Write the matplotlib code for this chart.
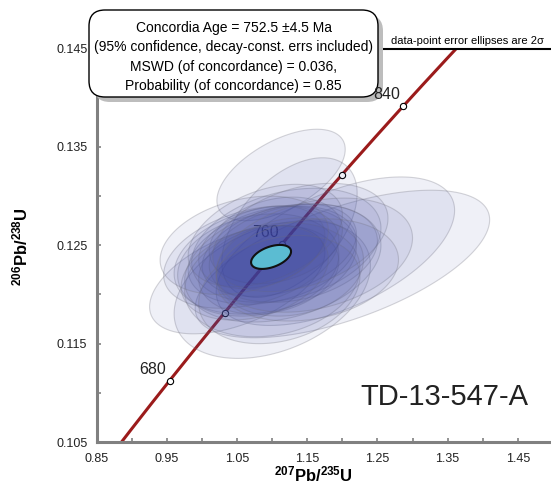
import numpy as np
import matplotlib
matplotlib.use('Agg')
import matplotlib.pyplot as plt
from matplotlib.patches import FancyBboxPatch
from matplotlib.transforms import IdentityTransform

plt.rcParams['font.family'] = ['Liberation Sans', 'DejaVu Sans']
plt.rcParams['mathtext.fontset'] = 'custom'
plt.rcParams['mathtext.rm'] = 'Liberation Sans'
plt.rcParams['mathtext.bf'] = 'Liberation Sans:bold'

# Datos: elipses 2 sigma (centro x, error x, centro y, error y, rho)
pb207_u235 = [1.1125, 1.1245, 1.190, 1.200, 1.100, 1.050,
              1.100, 1.090, 1.110, 1.080, 1.120, 1.095, 1.105, 1.070, 1.130,
              1.085, 1.115, 1.100, 1.090, 1.125, 1.075, 1.140, 1.060, 1.110,
              1.160, 1.150]
err_x = [0.0915, 0.0965, 0.170, 0.210, 0.140, 0.125,
         0.120, 0.130, 0.110, 0.115, 0.135, 0.100, 0.095, 0.125, 0.120,
         0.090, 0.140, 0.125, 0.110, 0.105, 0.105, 0.125, 0.120, 0.115,
         0.140, 0.130]
pb206_u238 = [0.13215, 0.1268, 0.1244, 0.1231, 0.1205, 0.1215,
              0.1240, 0.1235, 0.1245, 0.1230, 0.1250, 0.1225, 0.1255, 0.1238, 0.1242,
              0.1248, 0.1232, 0.1215, 0.1260, 0.1228, 0.1222, 0.1258, 0.1250, 0.1205,
              0.1240, 0.1225]
err_y = [0.00465, 0.0071, 0.00755, 0.0075, 0.0070, 0.0055,
         0.0050, 0.0055, 0.0047, 0.0052, 0.0058, 0.0045, 0.0044, 0.0052, 0.0050,
         0.0042, 0.0060, 0.0058, 0.0052, 0.0050, 0.0048, 0.0055, 0.0050, 0.0055,
         0.0058, 0.0052]
rho = [0.56, 0.49, 0.55, 0.60, 0.35, 0.50,
       0.30, 0.25, 0.35, 0.20, 0.30, 0.20, 0.25, 0.35, 0.25,
       0.30, 0.30, 0.20, 0.40, 0.15, 0.30, 0.35, 0.30, 0.25,
       0.30, 0.20]

# Edad concordia
conc_age = 752.5
conc_ex, conc_ey, conc_rho = 0.0285, 0.00122, 0.45

marker_ages = [680, 720, 760, 800, 840]
label_ages = [680, 760, 840]

l238 = 1.55125e-10
l235 = 9.8485e-10


def concordia(t_ma):
    t = np.asarray(t_ma) * 1e6
    return np.exp(l235 * t) - 1, np.exp(l238 * t) - 1


def ellipse(cx, ex, cy, ey, r, n=200):
    th = np.linspace(0, 2 * np.pi, n)
    x = cx + ex * np.cos(th)
    y = cy + ey * (r * np.cos(th) + np.sqrt(1 - r ** 2) * np.sin(th))
    return x, y


fig = plt.figure(figsize=(5.51, 4.83), dpi=100)
ax = fig.add_axes([97 / 551, 41 / 483, 454 / 551, 393.4 / 483])
ax.set_xlim(0.85, 1.4975)
ax.set_ylim(0.105, 0.145)

# curva concordia
tt = np.linspace(600, 900, 400)
cx, cy = concordia(tt)
ax.plot(cx, cy, color='#9b1b1b', lw=2.2, zorder=2)
mx, my = concordia(marker_ages)
ax.plot(mx, my, 'o', ms=4.5, mfc='white', mec='black', mew=0.8, zorder=2)
for a in label_ages:
    x0, y0 = concordia(a)
    ax.annotate(str(a), (x0, y0), xytext=(-2.5, 5), textcoords='offset points',
                ha='right', va='baseline', fontsize=11.5, color='#222222',
                zorder=13 if a == 840 else 2, annotation_clip=False)

for i in range(len(pb207_u235)):
    ex_, ey_ = ellipse(pb207_u235[i], err_x[i], pb206_u238[i], err_y[i], rho[i])
    ax.fill(ex_, ey_, facecolor=(0.235, 0.275, 0.63, 0.08),
            edgecolor=(0.45, 0.45, 0.5, 0.3), lw=0.8, zorder=3)

ccx, ccy = concordia(conc_age)
ex_, ey_ = ellipse(ccx, conc_ex, ccy, conc_ey, conc_rho)
ax.fill(ex_, ey_, facecolor='#5bbcd2', edgecolor='#111111', lw=1.5, zorder=4)

ax.text(1.345, 0.10958, 'TD-13-547-A', fontsize=21, color='#222222',
        ha='center', va='center', zorder=5)

ax.set_xticks(np.arange(0.85, 1.46, 0.1))
ax.set_xticks(np.arange(0.90, 1.50, 0.1), minor=True)
ax.set_yticks(np.arange(0.105, 0.1451, 0.01))
ax.set_yticks(np.arange(0.110, 0.141, 0.01), minor=True)
ax.set_xticklabels(['%.2f' % v for v in np.arange(0.85, 1.46, 0.1)])
ax.set_yticklabels(['%.3f' % v for v in np.arange(0.105, 0.1451, 0.01)])
ax.tick_params(which='both', direction='in', length=3, width=1.2, color='#808080',
               labelsize=9, labelcolor='#222222')
ax.tick_params(axis='x', pad=8)
ax.tick_params(axis='y', pad=7)

for s in ['left', 'bottom']:
    ax.spines[s].set_color('#808080')
    ax.spines[s].set_linewidth(2.2)
ax.spines['right'].set_visible(False)
ax.spines['top'].set_color('black')
ax.spines['top'].set_linewidth(1.5)

fig.text(313 / 551, 1 - 474 / 483, r'$\mathbf{^{207}Pb/^{235}U}$', fontsize=12,
         ha='center', va='center')
fig.text(20 / 551, 1 - 247 / 483, r'$\mathbf{^{206}Pb/^{238}U}$', fontsize=12,
         ha='center', va='center', rotation=90)

fig.text(544 / 551, 1 - 46 / 483, 'data-point error ellipses are 2σ', fontsize=8,
         ha='right', va='bottom')

# cuadro de resultados
shadow = FancyBboxPatch((94, 381), 289, 87, boxstyle='round,pad=0,rounding_size=16',
                        facecolor='#bdbdbd', edgecolor='none', transform=IdentityTransform(),
                        zorder=10, clip_on=False)
box = FancyBboxPatch((89, 386), 289, 87, boxstyle='round,pad=0,rounding_size=16',
                     facecolor='white', edgecolor='black', lw=1.0, transform=IdentityTransform(),
                     zorder=11, clip_on=False)
ax.add_artist(shadow)
ax.add_artist(box)
lines = ['Concordia Age = 752.5 ±4.5 Ma',
         '(95% confidence, decay-const. errs included)',
         'MSWD (of concordance) = 0.036,',
         'Probability (of concordance) = 0.85']
for k, txt in enumerate(lines):
    ax.text(233.5 / 551, 1 - (28 + 19.3 * k) / 483, txt, fontsize=10,
            ha='center', va='center', zorder=12, transform=fig.transFigure)

fig.savefig('out.png', dpi=100)
